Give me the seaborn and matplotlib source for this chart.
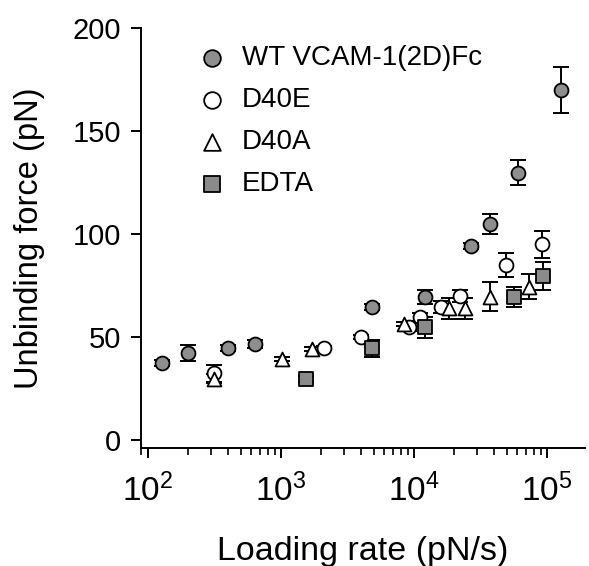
import numpy as np
import pandas as pd
import matplotlib
matplotlib.use("Agg")
import matplotlib.pyplot as plt
import seaborn as sns

# data
wt_rate = [128, 201, 402, 640, 4820, 12200, 26700, 37700, 60300, 127000]
wt_force = [37.6, 42.4, 44.9, 46.8, 64.9, 69.7, 94.5, 105, 129.9, 170]
wt_err = [1.5, 3.9, 1.5, 2, 1.5, 3.5, 1.5, 5, 6, 11]

d40e_rate = [318, 2130, 4020, 9230, 11100, 15900, 22300, 49000, 91600]
d40e_force = [32.5, 44.9, 50, 55.2, 60, 64.9, 70.1, 85.1, 95.2]
d40e_err = [4, 1, 1, 2, 2, 3, 3, 6, 6.5]

d40a_rate = [317, 1016, 1706, 8520, 18500, 24100, 37400, 72800]
d40a_force = [30, 39.5, 44.4, 56.4, 64.1, 64.1, 69.7, 74.6]
d40a_err = [2, 1, 1, 1, 5, 5, 7, 6]

edta_rate = [1540, 4850, 12200, 56400, 93800]
edta_force = [29.8, 44.7, 54.9, 69.7, 79.8]
edta_err = [1.5, 4, 5, 5, 7]

groups = ["WT VCAM-1(2D)Fc", "D40E", "D40A", "EDTA"]
markers = {"WT VCAM-1(2D)Fc": "o", "D40E": "o", "D40A": "^", "EDTA": "s"}
fills = {"WT VCAM-1(2D)Fc": "#8e8e8e", "D40E": "white", "D40A": "white", "EDTA": "#8a8a8a"}

df = pd.concat([
    pd.DataFrame({"rate": wt_rate, "force": wt_force, "err": wt_err, "group": groups[0]}),
    pd.DataFrame({"rate": d40e_rate, "force": d40e_force, "err": d40e_err, "group": groups[1]}),
    pd.DataFrame({"rate": d40a_rate, "force": d40a_force, "err": d40a_err, "group": groups[2]}),
    pd.DataFrame({"rate": edta_rate, "force": edta_force, "err": edta_err, "group": groups[3]}),
])

sns.set_style("ticks")
plt.rcParams["font.family"] = ["Liberation Sans", "DejaVu Sans"]
plt.rcParams["mathtext.fontset"] = "custom"
plt.rcParams["mathtext.rm"] = "Liberation Sans"
plt.rcParams["mathtext.it"] = "Liberation Sans"
for k in ["text.color", "axes.labelcolor", "xtick.color", "ytick.color", "axes.edgecolor"]:
    plt.rcParams[k] = "black"

fig = plt.figure(figsize=(5.89, 5.66), dpi=100)
ax = fig.add_axes([0.239, 0.208, 0.755, 0.742])

# error bars under the markers
for g in groups:
    sub = df[df["group"] == g]
    ax.errorbar(sub["rate"], sub["force"], yerr=sub["err"], fmt="none",
                ecolor="black", elinewidth=1.4, capsize=6, capthick=1.4, zorder=1)

for g in groups:
    sub = df[df["group"] == g]
    sns.scatterplot(data=sub, x="rate", y="force", marker=markers[g],
                    color=fills[g], edgecolor="black", linewidth=1.3,
                    s=100, ax=ax, zorder=3, label=g)

ax.set_xscale("log")
ax.set_xlim(89, 1.95e5)
ax.set_ylim(-3.8, 200)
ax.set_yticks([0, 50, 100, 150, 200])
ax.set_xticks([1e2, 1e3, 1e4, 1e5])
ax.set_xticklabels([r"$10^2$", r"$10^3$", r"$10^4$", r"$10^5$"])

ax.tick_params(axis="both", which="major", length=7, width=1.4, direction="out")
ax.tick_params(axis="y", which="major", labelsize=21, pad=7)
ax.tick_params(axis="x", which="major", labelsize=24, pad=11)
ax.tick_params(axis="x", which="minor", length=5, width=1.2, direction="out")
for s in ["left", "bottom"]:
    ax.spines[s].set_linewidth(1.4)
sns.despine(ax=ax)

ax.set_xlabel("Loading rate (pN/s)", fontsize=24.5, labelpad=20)
ax.set_ylabel("Unbinding force (pN)", fontsize=23.5, labelpad=20)

leg = ax.legend(loc="upper left", bbox_to_anchor=(0.105, 0.987), frameon=False,
                fontsize=20, handletextpad=0.55, labelspacing=0.58,
                handlelength=1.0, borderaxespad=0, markerscale=1.2)

fig.savefig("out.png", dpi=100)
